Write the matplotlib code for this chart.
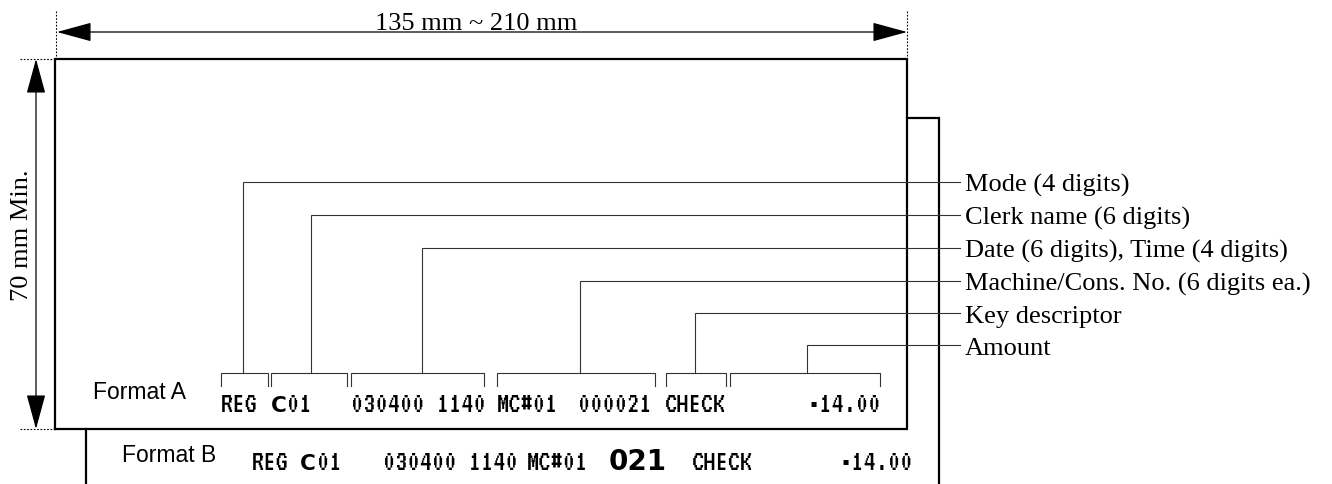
import matplotlib
matplotlib.use("Agg")
import matplotlib.pyplot as plt

# leader labels on the right, with the x where each leader drops to its bracket
field_labels = [
    "Mode (4 digits)",
    "Clerk name (6 digits)",
    "Date (6 digits), Time (4 digits)",
    "Machine/Cons. No. (6 digits ea.)",
    "Key descriptor",
    "Amount",
]
leader_y = [183, 216, 249, 282, 314, 346]
leader_x = [243, 311, 422, 580, 695, 807]
bracket_left = [221, 271, 351, 497, 666, 730]
bracket_right = [268, 347, 484, 655, 726, 880]

# printed receipt fields: (text, x, bold)
format_a_fields = [("REG", 221, False), ("C", 271, True), ("01", 287, False),
                   ("030400 1140", 351, False), ("MC#01", 497, False),
                   ("000021", 578, False), ("CHECK", 665, False)]
format_a_amount = ("\u202214.00", 881)
format_b_fields = [("REG", 252, False), ("C", 300, True), ("01", 317, False),
                   ("030400 1140", 383, False), ("MC#01", 527, False),
                   ("CHECK", 692, False)]
format_b_number = ("021", 638)
format_b_amount = ("\u202214.00", 913)

W, H = 1332, 485
fig = plt.figure(figsize=(W / 100, H / 100), dpi=100)
ax = fig.add_axes([0, 0, 1, 1])
ax.set_xlim(0, W)
ax.set_ylim(H, 0)
ax.axis("off")

serif = "Liberation Serif"
sans = "Liberation Sans"
# narrow "printer" face, falls back to a mono face if missing
printer = ["VT323", "Saira ExtraCondensed", "DejaVu Sans Mono"]
printer_size = 22
frame_lw = 1.6
thin_lw = 0.8
thin_col = "#333333"


def printer_text(x, y, txt, bold=False, ha="left"):
    # the double-width "C" of the clerk code is printed heavier
    if bold:
        ax.text(x, y, txt, family="DejaVu Sans", fontsize=15.5,
                fontweight="bold", ha=ha, va="baseline")
    else:
        ax.text(x, y, txt, family=printer, fontsize=printer_size, ha=ha,
                va="baseline")


# paper behind (format B) and front sheet (format A)
ax.plot([86, 86], [430, H + 5], color="black", lw=frame_lw)
ax.plot([907, 939, 939], [119, 119, H + 5], color="black", lw=frame_lw,
        solid_joinstyle="miter")
ax.plot([55, 55, 907, 907, 55], [430, 60, 60, 430, 430], color="black",
        lw=frame_lw, solid_joinstyle="miter")

# dimension guides
ax.plot([56, 56], [12, 60], color="black", lw=0.8, ls=(0, (1.5, 1.5)))
ax.plot([907, 907], [12, 60], color="black", lw=0.8, ls=(0, (1.5, 1.5)))
ax.plot([20, 55], [60, 60], color="black", lw=0.8, ls=(0, (1.5, 1.5)))
ax.plot([20, 55], [430, 430], color="black", lw=0.8, ls=(0, (1.5, 1.5)))

arrow = dict(arrowstyle="<|-|>,head_length=1.1,head_width=0.3",
             mutation_scale=20, color="black", lw=0.9, shrinkA=0, shrinkB=0)
ax.annotate("", xy=(57, 33), xytext=(907, 33), arrowprops=arrow)
ax.annotate("", xy=(36, 60), xytext=(36, 430), arrowprops=arrow)
ax.text(476, 30, "135 mm ~ 210 mm", family=serif, fontsize=19,
        ha="center", va="baseline")
ax.text(28, 235, "70 mm Min.", family=serif, fontsize=19, rotation=90,
        rotation_mode="anchor", ha="center", va="baseline")

# leaders and brackets
for lab, y, x, x0, x1 in zip(field_labels, leader_y, leader_x,
                             bracket_left, bracket_right):
    ax.plot([x, x, 960], [374, y, y], color=thin_col, lw=thin_lw,
            solid_joinstyle="miter")
    ax.plot([x0, x0, x1, x1], [387, 374, 374, 387], color=thin_col,
            lw=thin_lw, solid_joinstyle="miter")
    ax.text(965, y + 9, lab, family=serif, fontsize=19, ha="left",
            va="baseline")

# receipt lines
ax.text(93, 399, "Format A", family=sans, fontsize=16.5, va="baseline")
ax.text(122, 462, "Format B", family=sans, fontsize=16.5, va="baseline")
for txt, x, bold in format_a_fields:
    printer_text(x, 412, txt, bold)
printer_text(format_a_amount[1], 412, format_a_amount[0], ha="right")
for txt, x, bold in format_b_fields:
    printer_text(x, 470, txt, bold)
ax.text(format_b_number[1], 470, format_b_number[0], family="DejaVu Sans",
        fontsize=20, fontweight="bold", ha="center", va="baseline")
printer_text(format_b_amount[1], 470, format_b_amount[0], ha="right")

fig.savefig("out.png", dpi=100)
